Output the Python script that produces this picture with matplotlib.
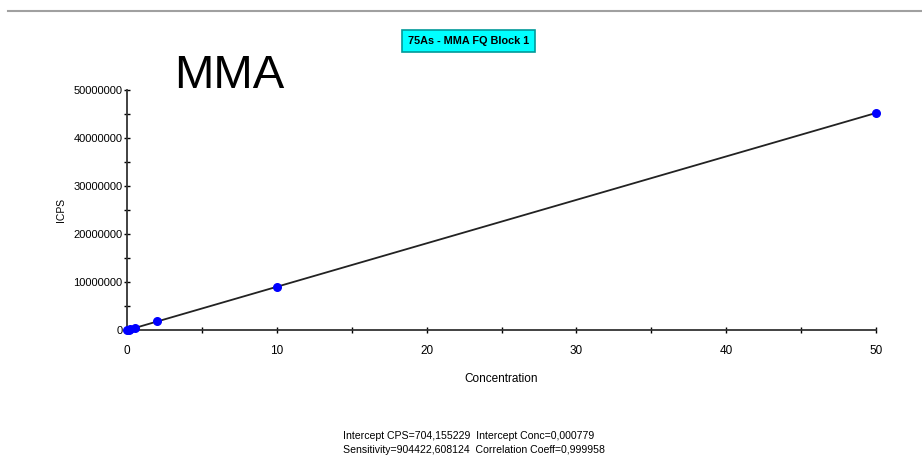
import numpy as np
import matplotlib.pyplot as plt

# 标准曲线数据 (浓度 vs ICPS)
conc = [0.0, 0.1, 0.2, 0.5, 2.0, 10.0, 50.0]
icps = [700, 92000, 185000, 455000, 1820000, 9010000, 45230000]

# 拟合参数
intercept_cps = 704.155229
sensitivity = 904422.608124
intercept_conc = 0.000779
corr_coeff = 0.999958

x_ticks = [0, 10, 20, 30, 40, 50]
y_ticks = [0, 10000000, 20000000, 30000000, 40000000, 50000000]

plt.rcParams['font.family'] = ['Liberation Sans', 'DejaVu Sans']

fig = plt.figure(figsize=(9.22, 4.69), dpi=100)
ax = fig.add_axes([0.138, 0.296, 0.812, 0.512])

# 拟合直线
x_line = np.array([0, 50])
ax.plot(x_line, intercept_cps + sensitivity * x_line, color='#222222', lw=1.3, zorder=2)
ax.scatter(conc, icps, s=30, color='#0000ff', marker='o', zorder=3, clip_on=False)

ax.set_xlim(0, 50)
ax.set_ylim(0, 50000000)
ax.set_xticks(x_ticks)
ax.set_xticks(np.arange(0, 51, 5), minor=True)
ax.set_yticks(y_ticks)
ax.set_yticks(np.arange(0, 50000001, 5000000), minor=True)
ax.set_xticklabels([str(v) for v in x_ticks], fontsize=8.5)
ax.set_yticklabels([str(v) for v in y_ticks], fontsize=8)
ax.tick_params(which='both', direction='inout', length=5, width=1, colors='black', pad=1)
ax.tick_params(axis='x', pad=8)
for s in ['top', 'right']:
    ax.spines[s].set_visible(False)
for s in ['left', 'bottom']:
    ax.spines[s].set_color('#333333')
    ax.spines[s].set_linewidth(1.3)

ax.set_xlabel('Concentration', fontsize=8.5, labelpad=12)
ax.set_ylabel('ICPS', fontsize=7.5, labelpad=5)

# 顶部分隔线
fig.add_artist(plt.Line2D([0.009, 1.0], [0.977, 0.977], color='#a0a0a0', lw=1.5))

# 标题框
fig.text(0.508, 0.913, '75As - MMA FQ Block 1', ha='center', va='center',
         fontsize=7.8, fontweight='bold',
         bbox=dict(boxstyle='square,pad=0.55', facecolor='#00ffff', edgecolor='#009a9a', lw=1.2))

fig.text(0.249, 0.838, 'MMA', ha='center', va='center', fontsize=34)

# 回归信息
info = (f'Intercept CPS={intercept_cps:.6f}'.replace('.', ',') +
        f'  Intercept Conc={intercept_conc:.6f}'.replace('.', ',') + '\n' +
        f'Sensitivity={sensitivity:.6f}'.replace('.', ',') +
        f'  Correlation Coeff={corr_coeff:.6f}'.replace('.', ','))
fig.text(0.372, 0.03, info, ha='left', va='bottom', fontsize=7.6, linespacing=1.55)

fig.savefig('out.png', dpi=100)
